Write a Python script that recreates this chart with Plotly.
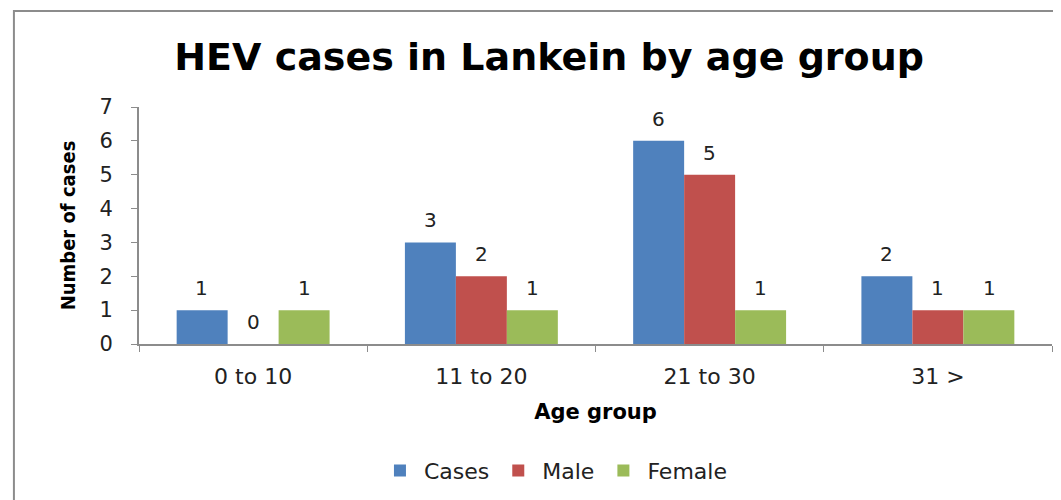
import plotly.graph_objects as go

# data
age_groups = ["0 to 10", "11 to 20", "21 to 30", "31 >"]
cases = [1, 3, 6, 2]
male = [0, 2, 5, 1]
female = [1, 1, 1, 1]

colors = {"Cases": "#4F81BD", "Male": "#C0504D", "Female": "#9BBB59"}
font_main = "DejaVu Sans"
bar_px = 51.3  # pixel width of one bar, for placing value labels

fig = go.Figure()
annotations = []
for i, (name, vals) in enumerate([("Cases", cases), ("Male", male), ("Female", female)]):
    fig.add_trace(go.Bar(
        x=age_groups, y=vals, name=name,
        marker=dict(color=colors[name], line=dict(width=0)),
    ))
    # value labels sitting above each bar
    for cat, v in zip(age_groups, vals):
        annotations.append(dict(
            x=cat, y=v, xref="x", yref="y", text=str(v), showarrow=False,
            xshift=(i - 1) * bar_px, yshift=22, yanchor="middle",
            font=dict(size=20, color="#222222", family=font_main),
        ))

fig.update_layout(
    width=1061, height=500,
    barmode="group", bargap=0.33, bargroupgap=0,
    plot_bgcolor="white", paper_bgcolor="white",
    margin=dict(l=131, r=17, t=99, b=164),
    title=dict(text="<b>HEV cases in Lankein by age group</b>",
               x=0.51, xanchor="center", y=0.902, yanchor="middle",
               font=dict(size=38, family=font_main, color="black")),
    showlegend=True,
    legend=dict(orientation="h", x=0.4545, xanchor="center", y=-0.535, yanchor="middle",
                font=dict(size=22, family=font_main, color="#222222"),
                itemwidth=38, traceorder="normal"),
    font=dict(family=font_main, color="#222222"),
    annotations=annotations,
    shapes=[dict(type="rect", xref="paper", yref="paper",
                 x0=-0.137, x1=1.1, y0=-0.8, y1=1.405,
                 line=dict(color="#8c8c8c", width=2), layer="below")],
)

fig.update_xaxes(
    automargin=False,
    showline=True, linecolor="#8c8c8c", linewidth=2,
    ticks="outside", tickson="boundaries", ticklen=6, tickcolor="#8c8c8c",
    tickfont=dict(size=22, family=font_main, color="#222222"),
    ticklabelstandoff=12,
    title=dict(text="<b>Age group</b>", font=dict(size=21, family=font_main, color="black"), standoff=16),
    showgrid=False,
)
fig.update_yaxes(
    automargin=False,
    range=[0, 7], dtick=1, showline=True, linecolor="#8c8c8c", linewidth=2,
    ticks="outside", ticklen=6, tickcolor="#8c8c8c",
    tickfont=dict(size=21, family=font_main, color="#222222"),
    ticklabelstandoff=14,
    title=dict(text="<b>Number of cases</b>",
               font=dict(size=20, family="Liberation Sans Narrow, DejaVu Sans Condensed", color="black"),
               standoff=18),
    showgrid=False, zeroline=False,
)

fig.write_html("out.html")
